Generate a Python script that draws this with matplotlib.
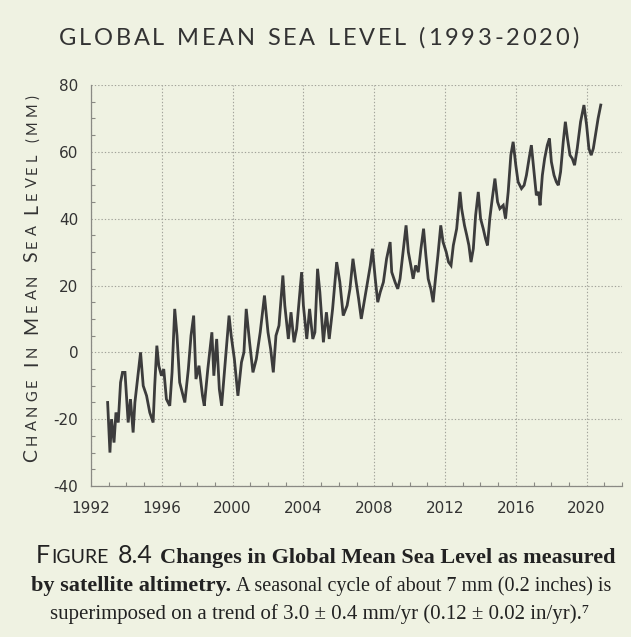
import matplotlib
matplotlib.use("Agg")
import matplotlib.pyplot as plt
from matplotlib.transforms import IdentityTransform
import numpy as np

# ---------------- data ----------------
years = [
    1992.94, 1993.07, 1993.16, 1993.30, 1993.41, 1993.54, 1993.67, 1993.78, 1993.92,
    1994.03, 1994.10, 1994.23, 1994.38, 1994.48, 1994.63, 1994.80, 1994.95,
    1995.14, 1995.32, 1995.51, 1995.60, 1995.72, 1995.83, 1995.98,
    1996.11, 1996.26, 1996.45, 1996.58, 1996.73, 1996.86,
    1997.01, 1997.20, 1997.30, 1997.50, 1997.65, 1997.80, 1997.93,
    1998.10, 1998.30, 1998.40, 1998.60, 1998.83, 1998.94,
    1999.10, 1999.25, 1999.38, 1999.63, 1999.80, 1999.92,
    2000.10, 2000.30, 2000.50, 2000.64, 2000.77, 2000.96,
    2001.15, 2001.34, 2001.56, 2001.80,
    2002.00, 2002.15, 2002.30, 2002.45, 2002.62, 2002.84, 2002.95,
    2003.15, 2003.30, 2003.47, 2003.62, 2003.80, 2003.90,
    2004.00, 2004.19, 2004.35, 2004.53, 2004.65, 2004.80, 2004.93,
    2005.13, 2005.30, 2005.46, 2005.65, 2005.88,
    2006.06, 2006.25, 2006.47, 2006.63, 2006.80, 2006.98,
    2007.12, 2007.27, 2007.40, 2007.59, 2007.78, 2007.90,
    2008.06, 2008.20, 2008.34, 2008.52, 2008.70, 2008.90, 2008.99,
    2009.18, 2009.33, 2009.46, 2009.65, 2009.80, 2009.93,
    2010.07, 2010.20, 2010.34, 2010.49, 2010.64, 2010.79, 2010.92,
    2011.05, 2011.20, 2011.33, 2011.46, 2011.60, 2011.76, 2011.89,
    2012.07, 2012.20, 2012.34, 2012.47, 2012.66, 2012.85, 2012.94,
    2013.10, 2013.23, 2013.35, 2013.47, 2013.60, 2013.73, 2013.88,
    2014.01, 2014.16, 2014.29, 2014.40, 2014.53, 2014.67, 2014.82, 2014.97,
    2015.10, 2015.29, 2015.42, 2015.57, 2015.72, 2015.85,
    2016.00, 2016.13, 2016.32, 2016.47, 2016.60, 2016.75, 2016.88,
    2017.03, 2017.16, 2017.29, 2017.37, 2017.50, 2017.63, 2017.78, 2017.90,
    2018.01, 2018.16, 2018.29, 2018.40, 2018.53, 2018.68, 2018.80, 2018.92,
    2019.06, 2019.19, 2019.32, 2019.47, 2019.66, 2019.85,
    2020.00, 2020.13, 2020.26, 2020.38, 2020.50, 2020.65, 2020.80,
]
gmsl_mm = [
    -15, -30, -20, -27, -18, -21, -9, -6, -6,
    -15, -21, -14, -24, -15, -8, 0, -10,
    -13, -18, -21, -10, 2, -4, -7,
    -5, -14, -16, -6, 13, 5,
    -9, -13, -15, -5, 5, 11, -8,
    -4, -13, -16, -5, 6, -7,
    4, -11, -16, 0, 11, 5,
    -2, -13, -3, 0, 13, 3,
    -6, -2, 6, 17,
    6, 1, -6, 5, 8, 23, 14,
    4, 12, 3, 7, 18, 24,
    14, 4, 13, 4, 6, 25, 18,
    3, 12, 4, 13, 27,
    21, 11, 14, 19, 28, 21,
    16, 10, 14, 20, 26, 31,
    22, 15, 18, 21, 28, 33, 24,
    21, 19, 22, 31, 38, 30,
    26, 22, 26, 24, 31, 37, 29,
    22, 19, 15, 22, 29, 38, 33,
    30, 27, 26, 32, 37, 48, 43,
    38, 35, 32, 27, 31, 41, 48,
    40, 37, 34, 32, 40, 46, 52, 45,
    43, 44, 40, 48, 59, 63,
    56, 51, 49, 50, 53, 58, 62,
    54, 47, 48, 44, 53, 58, 62, 64,
    57, 53, 51, 50, 54, 63, 69, 64,
    59, 58, 56, 61, 69, 74,
    68, 61, 59, 61, 65, 70, 74,
]
x_ticks = [1992, 1996, 2000, 2004, 2008, 2012, 2016, 2020]
x_ticklabels = ["1992", "1996", "2000", "2004", "2008", "2012", "2016", "2020"]
y_ticks = [-40, -20, 0, 20, 40, 60, 80]
y_ticklabels = ["-40", "-20", "0", "20", "40", "60", "80"]

title = "GLOBAL MEAN SEA LEVEL (1993-2020)"
ylabel_words = ["CHANGE", "IN", "MEAN", "SEA", "LEVEL", "(MM)"]

# ---------------- style ----------------
BG = "#eff2e2"
INK = "#333333"
W, H = 631, 637

fig = plt.figure(figsize=(W / 100, H / 100), dpi=100, facecolor=BG)
ax = fig.add_axes([91 / W, 1 - 486 / H, (622 - 91) / W, (486 - 85) / H])
ax.set_facecolor(BG)

ax.plot(years, gmsl_mm, color="#3c3c3c", lw=2.0, solid_joinstyle="miter")

ax.set_xlim(1992, 2022)
ax.set_ylim(-40, 80)
ax.set_xticks(x_ticks)
ax.set_xticklabels(x_ticklabels)
ax.set_yticks(y_ticks)
ax.set_yticklabels(y_ticklabels)
ax.set_xticks(np.arange(1992, 2023, 1), minor=True)
ax.set_yticks(np.arange(-40, 81, 5), minor=True)

ax.grid(True, which="major", linestyle=(0, (1.2, 1.8)), color="#a2a39a", lw=0.8)
for s in ["top", "right"]:
    ax.spines[s].set_visible(False)
for s in ["left", "bottom"]:
    ax.spines[s].set_color("#8a8a84")
    ax.spines[s].set_linewidth(0.9)
ax.tick_params(which="major", length=0, labelsize=11, labelcolor=INK)
ax.tick_params(axis="x", which="major", pad=11)
ax.tick_params(axis="y", which="major", pad=9)
ax.tick_params(which="minor", direction="in", length=3, color="#8a8a84", width=0.8)
for lab in ax.get_xticklabels() + ax.get_yticklabels():
    lab.set_family("DejaVu Sans")

fig.canvas.draw()
r = fig.canvas.get_renderer()
idt = IdentityTransform()
SANS = "Lato"


def char_runs(pieces):
    out = []
    for txt, sz in pieces:
        for ch in txt:
            out.append((ch, sz))
    return out


def tracked(pieces, x0, y0, target_len, vertical=False, center=False, color=INK):
    chars = char_runs(pieces)
    made = []
    nat = 0.0
    for ch, sz in chars:
        if ch == " ":
            w = sz * 100 / 72 * 0.28
            made.append((None, w))
        else:
            t = fig.text(0, 0, ch, transform=idt, fontsize=sz, family=SANS, color=color,
                         rotation=90 if vertical else 0, rotation_mode="anchor",
                         ha="left", va="baseline")
            bb = t.get_window_extent(r)
            w = bb.height if vertical else bb.width
            made.append((t, w))
        nat += w
    extra = (target_len - nat) / max(len(made) - 1, 1)
    pos = x0 - target_len / 2 if center else (y0 if vertical else x0)
    for t, w in made:
        if t is not None:
            if vertical:
                t.set_position((x0, pos))
            else:
                t.set_position((pos, y0))
        pos += w + extra


# title
tracked([(title, 17)], W / 2 + 3, H - 45, 520, center=True)

# y label (small caps)
ypieces = []
for i, word in enumerate(ylabel_words):
    if word.startswith("("):
        ypieces.append((word, 10.5))
    else:
        ypieces.append((word[0], 14))
        ypieces.append((word[1:], 10.5))
    if i < len(ylabel_words) - 1:
        ypieces.append((" ", 10.5))
tracked(ypieces, 37, H - 462, 367, vertical=True)


def caption_line(pieces, ybase, cx):
    texts = []
    total = 0
    for txt, kw, gap in pieces:
        t = fig.text(0, ybase, txt, transform=idt, ha="left", va="baseline", color="#222222", **kw)
        w = t.get_window_extent(r).width
        texts.append((t, w, gap))
        total += w + gap
    x = cx - total / 2
    for t, w, gap in texts:
        t.set_x(x)
        x += w + gap


SERIF = ["Liberation Serif", "DejaVu Serif"]
serif = dict(family=SERIF, fontsize=15)
serif2 = dict(family=SERIF, fontsize=14.5)
serif_b = dict(family=SERIF, fontsize=16, fontweight="bold")
sc_big = dict(family=SANS, fontsize=18)
sc_small = dict(family=SANS, fontsize=14)

caption_line([("F", sc_big, 1), ("IGURE", sc_small, 9), ("8.4", sc_big, 8),
              ("Changes in Global Mean Sea Level as measured", serif_b, 0)], H - 563, 326)
caption_line([("by satellite altimetry.", serif_b, 5),
              ("A seasonal cycle of about 7 mm (0.2 inches) is", serif2, 0)], H - 591, 321)
caption_line([("superimposed on a trend of 3.0 \u00b1 0.4 mm/yr (0.12 \u00b1 0.02 in/yr).\u2077", serif, 0)],
             H - 619, 320)

fig.savefig("out.png", dpi=100, facecolor=BG)
